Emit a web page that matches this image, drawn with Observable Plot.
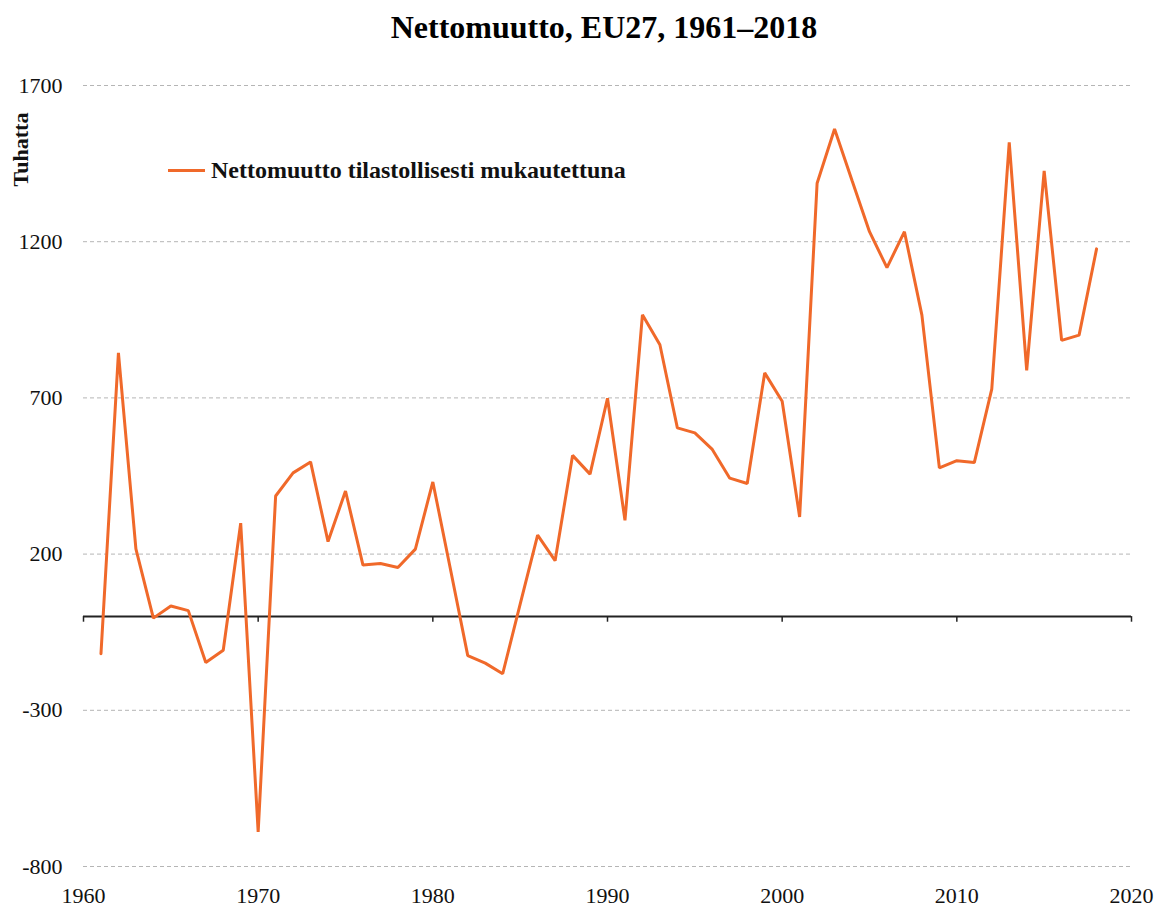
<!DOCTYPE html>
<html>
<head>
<meta charset="utf-8">
<script src="https://cdn.jsdelivr.net/npm/d3@7"></script>
<script src="https://cdn.jsdelivr.net/npm/@observablehq/plot@0.6"></script>
<style>
  html, body { margin: 0; padding: 0; background: #fff; }
  #wrap { position: relative; width: 1160px; height: 906px; font-family: 'Liberation Serif', 'Times New Roman', serif; }
  #title { height: 50px; line-height: 54px; text-align: center; font-weight: bold; font-size: 32px; color: #000; padding-left: 48px; box-sizing: border-box; white-space: nowrap; }
  #legend { position: absolute; left: 168px; top: 155px; height: 30px; display: flex; align-items: center; font-weight: bold; font-size: 24px; color: #111; }
  #legend .sw { width: 37px; height: 3px; background: #f0692a; margin-right: 6px; }
</style>
</head>
<body>
<div id="wrap">
  <div id="title">Nettomuutto, EU27, 1961–2018</div>
  <div id="chart"></div>
  <div id="legend"><span class="sw"></span><span>Nettomuutto tilastollisesti mukautettuna</span></div>
</div>
<script>
const years = [1961,1962,1963,1964,1965,1966,1967,1968,1969,1970,1971,1972,1973,1974,1975,1976,1977,1978,1979,1980,1981,1982,1983,1984,1985,1986,1987,1988,1989,1990,1991,1992,1993,1994,1995,1996,1997,1998,1999,2000,2001,2002,2003,2004,2005,2006,2007,2008,2009,2010,2011,2012,2013,2014,2015,2016,2017,2018];
const netMigration = [-119,844,217,-5,34,19,-147,-108,299,-689,386,460,495,240,402,165,170,157,216,431,154,-125,-149,-183,40,261,179,516,456,699,308,966,870,604,588,535,443,426,780,689,319,1387,1561,1396,1232,1117,1232,965,476,499,493,728,1518,788,1427,884,901,1177];
const yTicks = [-800,-300,200,700,1200,1700];
const xTicks = [1960,1970,1980,1990,2000,2010,2020];
const yLabel = "Tuhatta";

const data = years.map((y, i) => ({year: y, value: netMigration[i]}));

const chart = Plot.plot({
  width: 1160,
  height: 856,
  marginLeft: 83,
  marginRight: 29,
  marginTop: 35,
  marginBottom: 40,
  style: {fontFamily: "'Liberation Serif', 'Times New Roman', serif", fontSize: "22px", color: "#111", background: "#fff", overflow: "visible"},
  x: {domain: [1960, 2020], ticks: xTicks, tickFormat: d => String(d), tickSize: 0, tickPadding: 21, label: null},
  y: {domain: [-800, 1700], ticks: yTicks, tickFormat: d => String(d), tickSize: 0, tickPadding: 21, label: null},
  marks: [
    Plot.ruleY(yTicks, {stroke: "#b5b5b5", strokeWidth: 1, strokeDasharray: "4,3"}),
    Plot.ruleY([0], {stroke: "#222", strokeWidth: 2}),
    Plot.ruleX(xTicks, {x: d => d, y1: 0, y2: -18, stroke: "#222", strokeWidth: 1.5}),
    Plot.line(data, {x: "year", y: "value", stroke: "#f0692a", strokeWidth: 3, strokeLinejoin: "miter"}),
    Plot.text([yLabel], {text: d => d, frameAnchor: "top-left", textAnchor: "middle", lineAnchor: "middle", dx: -63, dy: 64, rotate: -90, fontWeight: "bold", fontSize: 22, fill: "#111"})
  ]
});
document.getElementById("chart").appendChild(chart);
</script>
</body>
</html>
